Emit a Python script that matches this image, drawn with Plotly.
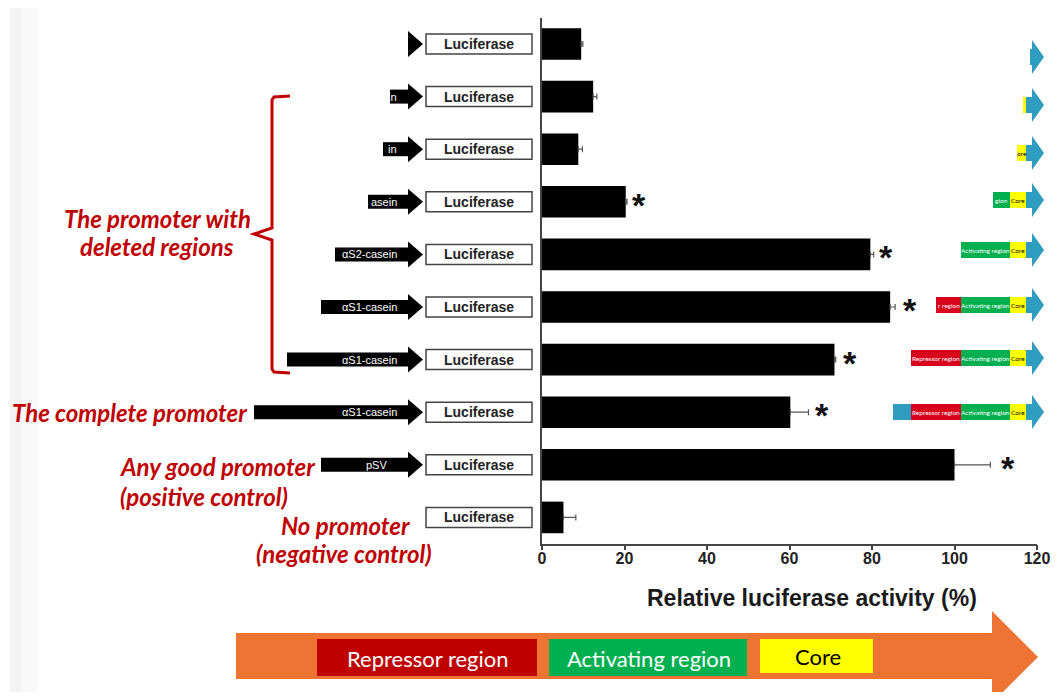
import plotly.graph_objects as go

# The page body has an 8px margin, so the figure is sized to fit the 1059x700 window
# exactly and all geometry below is given in window pixels (offset by OFF).
OFF = 8
W, H = 1059 - 2 * OFF, 700 - 2 * OFF

# ---------------- data ----------------
construct_names = ["del-1", "del-2", "del-3", "del-4", "del-5", "del-6", "del-7",
                   "complete", "pSV", "none"]
activity = [9.5, 12.4, 8.8, 20.3, 79.6, 84.4, 70.9, 60.2, 100.0, 5.2]
err_plus = [0.4, 0.9, 1.0, 0.3, 0.8, 1.2, 0.3, 4.4, 8.7, 3.0]
significant = [False, False, False, True, True, True, True, True, True, False]
promoter_text = ["", "in", "in", "asein", "\u03b1S2-casein", "\u03b1S1-casein",
                 "\u03b1S1-casein", "\u03b1S1-casein", "pSV", ""]
x_ticks = [0, 20, 40, 60, 80, 100, 120]

# ---------------- layout geometry (window pixels) ----------------
X0_PX, X1_PX = 542, 1037
Y_TOP_PX, Y_BOT_PX = 17.7, 543.7
ROW_PX = (Y_BOT_PX - Y_TOP_PX) / len(activity)
shaft_start_px = [None, 390, 383, 368, 335, 321, 287, 254, 321, None]
has_head = [True] * 9 + [False]
star_shift = [0, 0, 0, 3, 3, 6, 5, 5, 9, 0]


def px(x):
    return (x - OFF) / W


def py(y):
    return 1 - (y - OFF) / H


def row_y(i):
    return Y_TOP_PX + (i + 0.5) * ROW_PX


def path(points, close=True):
    s = "M " + " L ".join(f"{px(x):.5f},{py(y):.5f}" for x, y in points)
    return s + (" Z" if close else "")


shapes = []
annotations = []


def rect(x0, y0, x1, y1, fill, line_color=None, lw=0, layer="above"):
    shapes.append(dict(type="rect", xref="paper", yref="paper",
                       x0=px(x0), x1=px(x1), y0=py(y1), y1=py(y0),
                       fillcolor=fill, layer=layer,
                       line=dict(color=line_color or fill, width=lw)))


def text(x, y, s, size, color, family="Liberation Sans", weight="normal",
         style="normal", xanchor="center", align="center"):
    annotations.append(dict(x=px(x), y=py(y), xref="paper", yref="paper",
                            text=s, showarrow=False, xanchor=xanchor, yanchor="middle",
                            align=align,
                            font=dict(size=size, color=color, family=family,
                                      weight=weight, style=style)))


# left slide edge shading
rect(10, 8, 22, 700, "#f3f3f3", layer="below")
rect(22, 8, 38, 700, "#f9f9f9", layer="below")

# ---------------- left construct diagrams ----------------
for i in range(len(activity)):
    yc = row_y(i)
    rect(426, yc - 10, 532, yc + 10, "white", "#444", 1.5)
    text(479, yc, "Luciferase", 14, "#222", weight="bold")
    if shaft_start_px[i] is not None:
        rect(shaft_start_px[i], yc - 7, 409, yc + 7, "black")
    if has_head[i]:
        shapes.append(dict(type="path", xref="paper", yref="paper",
                           path=path([(408, yc - 13), (423, yc), (408, yc + 13)]),
                           fillcolor="black", line=dict(width=0)))
    if promoter_text[i]:
        if promoter_text[i] == "pSV":
            text(376, yc, "pSV", 11, "white")
        else:
            text(399, yc, promoter_text[i], 11, "white", xanchor="right")

# ---------------- red labels + bracket ----------------
RED = "#C00000"
lab_font = dict(family="Lato", weight="bold", style="italic")
text(157, 218, "The promoter with", 24, RED, **lab_font)
text(157, 246, "deleted regions", 24, RED, **lab_font)
text(249, 413, "The complete promoter", 24, RED, xanchor="right", **lab_font)
text(118, 466, "Any good promoter", 24, RED, xanchor="left", **lab_font)
text(118, 496, "(positive control)", 24, RED, xanchor="left", **lab_font)
text(345, 525, "No promoter", 24, RED, **lab_font)
text(344, 553, "(negative control)", 24, RED, **lab_font)

shapes.append(dict(type="path", xref="paper", yref="paper",
                   path=path([(290, 96), (274, 97), (272, 100), (272, 228), (254, 234),
                              (272, 240), (272, 369), (274, 372), (290, 373)], close=False),
                   line=dict(color=RED, width=3)))

# ---------------- right region diagrams ----------------
TEAL = "#2E9DC0"
R_RED = "#D8001A"
R_GREEN = "#00B050"
R_YEL = "#FFFF00"
right_y = [57, 105, 153, 200, 250, 305, 358, 412]
right_segments = [
    [],
    [(1023, 1026, R_YEL, "", "black")],
    [(1017, 1026, R_YEL, "ore", "black")],
    [(993, 1010, R_GREEN, "gion", "white"), (1010, 1026, R_YEL, "Core", "black")],
    [(961, 1010, R_GREEN, "Activating region", "white"), (1010, 1026, R_YEL, "Core", "black")],
    [(936, 961, R_RED, "r region", "white"), (961, 1010, R_GREEN, "Activating region", "white"),
     (1010, 1026, R_YEL, "Core", "black")],
    [(911, 961, R_RED, "Repressor region", "white"), (961, 1010, R_GREEN, "Activating region", "white"),
     (1010, 1026, R_YEL, "Core", "black")],
    [(893, 911, TEAL, "", "white"), (911, 961, R_RED, "Repressor region", "white"),
     (961, 1010, R_GREEN, "Activating region", "white"), (1010, 1026, R_YEL, "Core", "black")],
]
for yc, segs in zip(right_y, right_segments):
    shaft0 = 1026 if segs else 1030
    rect(shaft0, yc - 8, 1033, yc + 8, TEAL)
    shapes.append(dict(type="path", xref="paper", yref="paper",
                       path=path([(1032, yc - 17), (1044, yc), (1032, yc + 17)]),
                       fillcolor=TEAL, line=dict(width=0)))
    for x0, x1, col, lab, lc in segs:
        rect(x0, yc - 8, x1, yc + 8, col)
        if lab:
            text((x0 + x1) / 2, yc, lab, 6.5, lc, family="Lato")

# ---------------- bottom orange arrow ----------------
ORANGE = "#EE7434"
shapes.append(dict(type="path", xref="paper", yref="paper",
                   path=path([(236, 633), (992, 633), (992, 611), (1038, 657),
                              (992, 703), (992, 679), (236, 679)]),
                   fillcolor=ORANGE, line=dict(width=0)))
rect(317, 639, 537, 676, "#C00000")
rect(549, 639, 747, 676, "#00B050")
rect(760, 639, 873, 673, "#FFFF00")
text(428, 658, "Repressor region", 22, "white", family="Lato")
text(649, 658, "Activating region", 22, "white", family="Lato")
text(818, 656, "Core", 22, "black", family="Lato")

# axis title
text(812, 598, "Relative luciferase activity (%)", 23, "#1a1a1a", weight="bold")

# significance stars
for i, (v, e, s) in enumerate(zip(activity, err_plus, significant)):
    if s:
        annotations.append(dict(x=v + e, y=i, xref="x", yref="y", text="*",
                                showarrow=False, xanchor="left", yanchor="middle",
                                xshift=star_shift[i], yshift=-3,
                                font=dict(size=34, color="#111",
                                          family="Liberation Sans", weight="bold")))

# ---------------- bar chart ----------------
fig = go.Figure(go.Bar(
    x=activity, y=list(range(len(activity))), orientation="h",
    width=0.6, marker=dict(color="black", line=dict(width=0)),
    error_x=dict(type="data", symmetric=False, array=err_plus,
                 arrayminus=[0] * len(err_plus), color="#555",
                 thickness=1.2, width=3),
    hovertext=construct_names,
))

fig.update_layout(
    width=W, height=H, margin=dict(l=0, r=0, t=0, b=0, autoexpand=False),
    paper_bgcolor="white", plot_bgcolor="rgba(0,0,0,0)",
    showlegend=False,
    xaxis=dict(domain=[px(X0_PX), px(X1_PX)], range=[0, 120], automargin=False,
               tickvals=x_ticks, ticks="outside", ticklen=5, tickwidth=1.5,
               tickcolor="#444", showline=True, linecolor="#444", linewidth=1.5,
               showgrid=False, zeroline=False, anchor="y", ticklabelstandoff=-6,
               ticklabeloverflow="allow",
               tickfont=dict(size=16, color="#222", family="Liberation Sans",
                             weight="bold")),
    yaxis=dict(domain=[py(Y_BOT_PX), py(Y_TOP_PX)], range=[len(activity) - 0.5, -0.5],
               automargin=False,
               showticklabels=False, showline=True, linecolor="#444", linewidth=1.5,
               showgrid=False, zeroline=False, ticks="", anchor="x"),
    shapes=shapes, annotations=annotations,
)

fig.write_html("out.html")
